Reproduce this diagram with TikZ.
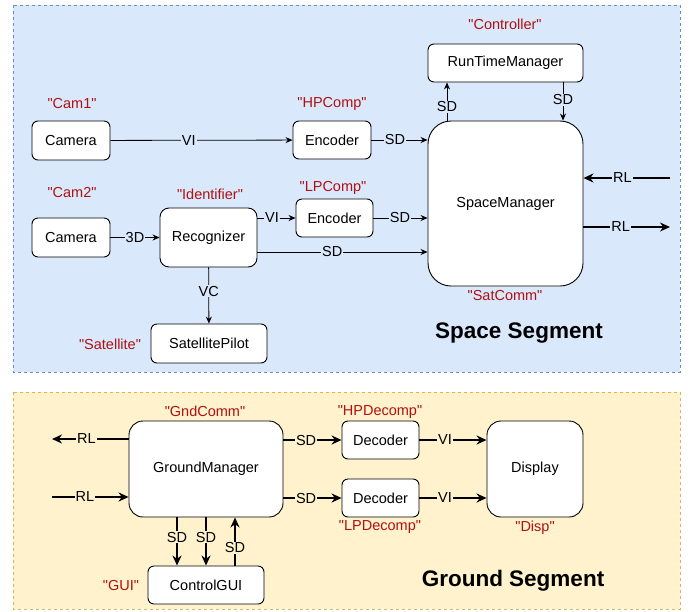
\documentclass[tikz,border=0pt]{standalone}
\usepackage{fontspec}
\setmainfont{Liberation Sans}[Ligatures=TeXOff]
\usetikzlibrary{arrows.meta, positioning}
\definecolor{spacefill}{HTML}{DAE8FC}
\definecolor{spaceline}{HTML}{6C8EBF}
\definecolor{gndfill}{HTML}{FFF2CC}
\definecolor{gndline}{HTML}{D6B656}
\definecolor{tagred}{RGB}{176, 16, 16}
\newcommand{\boxfont}{\fontsize{14.5}{17}\selectfont}
\newcommand{\segfont}{\fontsize{22.5}{26}\selectfont\bfseries}

\begin{document}
\begin{tikzpicture}[x=1pt, y=-1pt,
  comp/.style={draw=black, line width=0.9pt, fill=white, rounded corners=6pt, inner sep=0pt, font=\boxfont},
  tag/.style={text=tagred, inner sep=0pt, font=\boxfont},
  lbl/.style={inner sep=1pt, font=\boxfont},
  thin/.style={-{Stealth[length=7pt, width=6pt]}, line width=0.8pt},
  thick/.style={-{Stealth[length=10pt, width=9pt]}, line width=1.6pt}
]
  \useasboundingbox (0,0) rectangle (696,611);
  % segments
  \draw[spaceline, fill=spacefill, dashed, line width=0.8pt] (13,5) rectangle (680,372);
  \draw[gndline, fill=gndfill, dashed, line width=0.8pt] (13,392) rectangle (680,609);
  \node[font=\segfont] (spaceseg) at (519,333) {Space Segment};
  \node[font=\segfont] (gndseg) at (513,581) {Ground Segment};

  % space segment components
  \node[comp, minimum width=78pt, minimum height=39pt] (cam1) at (71,140.5) {Camera};
  \node[comp, minimum width=78pt, minimum height=38pt] (enc1) at (332,140) {Encoder};
  \node[comp, minimum width=78pt, minimum height=39pt] (cam2) at (71,237.5) {Camera};
  \node[comp, minimum width=97pt, minimum height=59pt, rounded corners=9pt] (recog) at (208.5,237.5) {Recognizer};
  \node[comp, minimum width=77pt, minimum height=38pt] (enc2) at (334.5,218) {Encoder};
  \node[comp, minimum width=116pt, minimum height=39pt] (pilot) at (209,343.5) {SatellitePilot};
  \node[comp, minimum width=155pt, minimum height=38pt] (rtm) at (505.5,63) {RunTimeManager};
  \node[comp, minimum width=155pt, minimum height=165pt, rounded corners=23pt] (sm) at (505.5,203.5) {SpaceManager};

  \node[tag] (cam1tag) at (72,104) {"Cam1"};
  \node[tag] (enc1tag) at (332,104) {"HPComp"};
  \node[tag] (cam2tag) at (72,193) {"Cam2"};
  \node[tag] (recogtag) at (210,194) {"Identifier"};
  \node[tag] (enc2tag) at (333,188) {"LPComp"};
  \node[tag] (pilottag) at (110,344) {"Satellite"};
  \node[tag] (rtmtag) at (505,24) {"Controller"};
  \node[tag] (smtag) at (505,296) {"SatComm"};

  \coordinate (rlin) at (670,178);
  \coordinate (rlout) at (670,227);

  \draw[thin] (cam1) -- node[lbl, fill=spacefill, pos=0.43] {VI} (enc1);
  \draw[thin] (enc1) -- node[lbl, fill=spacefill, pos=0.42] {SD} (enc1 -| sm.west);
  \draw[thin] (cam2) -- node[lbl, fill=spacefill, pos=0.5] {3D} (recog);
  \draw[thin] (recog.east |- enc2) -- node[lbl, fill=spacefill, pos=0.38] {VI} (enc2);
  \draw[thin] (enc2) -- node[lbl, fill=spacefill, pos=0.49] {SD} (enc2 -| sm.west);
  \draw[thin] ([yshift=-14.5pt]recog.east) -- node[lbl, fill=spacefill, pos=0.44] {SD} ([yshift=-14.5pt]recog.east -| sm.west);
  \draw[thin] (recog) -- node[lbl, fill=spacefill, pos=0.42] {VC} (pilot);
  \draw[thin] (sm.north -| 447,0) -- node[lbl, fill=spacefill, pos=0.36] {SD} (rtm.south -| 447,0);
  \draw[thin] (rtm.south -| 563,0) -- node[lbl, fill=spacefill, pos=0.46] {SD} (sm.north -| 563,0);
  \draw[thick] (rlin) -- node[lbl, fill=spacefill, pos=0.55] {RL} (rlin -| sm.east);
  \draw[thick] (rlout -| sm.east) -- node[lbl, fill=spacefill, pos=0.43] {RL} (rlout);

  % ground segment components
  \node[comp, minimum width=154pt, minimum height=96pt, rounded corners=14pt] (gm) at (206,469) {GroundManager};
  \node[comp, minimum width=77pt, minimum height=38pt] (dec1) at (380.5,440) {Decoder};
  \node[comp, minimum width=77pt, minimum height=38pt] (dec2) at (380.5,498) {Decoder};
  \node[comp, minimum width=96pt, minimum height=96pt, rounded corners=14pt] (disp) at (535,469) {Display};
  \node[comp, minimum width=116pt, minimum height=38pt] (gui) at (206,585) {ControlGUI};

  \node[tag] (gmtag) at (205,411) {"GndComm"};
  \node[tag] (dec1tag) at (380,412) {"HPDecomp"};
  \node[tag] (dec2tag) at (380,527) {"LPDecomp"};
  \node[tag] (disptag) at (535,528) {"Disp"};
  \node[tag] (guitag) at (121,585) {"GUI"};

  \coordinate (gndout) at (52,439);
  \coordinate (gndin) at (52,497);

  \draw[thick] (gndout -| gm.west) -- node[lbl, fill=gndfill, pos=0.55] {RL} (gndout);
  \draw[thick] (gndin) -- node[lbl, fill=gndfill, pos=0.43] {RL} (gndin -| gm.west);
  \draw[thick] (dec1 -| gm.east) -- node[lbl, fill=gndfill, pos=0.39] {SD} (dec1);
  \draw[thick] (dec2 -| gm.east) -- node[lbl, fill=gndfill, pos=0.39] {SD} (dec2);
  \draw[thick] (dec1) -- node[lbl, fill=gndfill, pos=0.38] {VI} (dec1 -| disp.west);
  \draw[thick] (dec2) -- node[lbl, fill=gndfill, pos=0.38] {VI} (dec2 -| disp.west);
  \draw[thick] (gm.south -| 177,0) -- node[lbl, fill=gndfill, pos=0.41] {SD} (gui.north -| 177,0);
  \draw[thick] (gm.south -| 206,0) -- node[lbl, fill=gndfill, pos=0.41] {SD} (gui.north -| 206,0);
  \draw[thick] (gui.north -| 235,0) -- node[lbl, fill=gndfill, pos=0.37] {SD} (gm.south -| 235,0);
\end{tikzpicture}
\end{document}
